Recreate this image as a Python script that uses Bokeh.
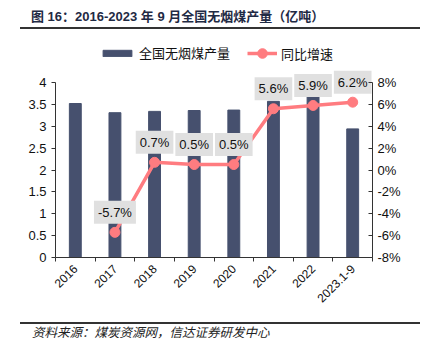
from bokeh.plotting import figure
from bokeh.models import (Range1d, LinearAxis, FixedTicker, Legend, LegendItem,
                          ColumnDataSource, Div)
from bokeh.layouts import column
from bokeh.embed import file_html
from bokeh.resources import INLINE
from bokeh.core.properties import value
import math

categories = ["2016", "2017", "2018", "2019", "2020", "2021", "2022", "2023.1-9"]
production = [3.52, 3.31, 3.34, 3.36, 3.37, 3.57, 3.70, 2.94]
growth = [None, -5.7, 0.7, 0.5, 0.5, 5.6, 5.9, 6.2]
left_ticks = [0, 0.5, 1, 1.5, 2, 2.5, 3, 3.5, 4]
right_ticks = [-8, -6, -4, -2, 0, 2, 4, 6, 8]

title_text = "图 16：2016-2023 年 9 月全国无烟煤产量（亿吨）"
source_text = "资料来源：煤炭资源网，信达证券研发中心"
bar_name = "全国无烟煤产量"
line_name = "同比增速"

CJK = "Noto Sans CJK SC"
LAT = "Liberation Sans"
BAR_C = "#46506E"
LINE_C = "#FF7C80"
W = 425

# Title strip (HTML)
top = Div(width=W, height=36, margin=0, text=(
    '<div style="position:relative;width:425px;height:36px;">'
    '<div style="position:absolute;left:31px;top:8px;line-height:17px;white-space:nowrap;'
    "font-family:'Liberation Sans','Noto Sans CJK SC';font-weight:bold;font-size:13px;"
    'color:#1F2A44;">' + title_text + '</div>'
    '<div style="position:absolute;left:20px;top:27px;width:400px;height:2px;background:#333333;"></div>'
    '</div>'))

# Main chart: frame spans page y 40..257; value axes limited with bounds
xs = [i + 0.5 for i in range(len(categories))]
p = figure(width=W, height=282, x_range=Range1d(0, len(categories)), y_range=Range1d(0, 4.96),
           output_backend="svg", toolbar_location=None,
           min_border_left=55, min_border_right=53, min_border_top=4, min_border_bottom=61)
p.outline_line_color = None
p.grid.visible = False
p.extra_y_ranges = {"pct": Range1d(-8, 11.84)}

bars = p.vbar(x=xs, top=production, width=0.3, color=BAR_C)

gx = [x for x, g in zip(xs, growth) if g is not None]
gy = [g for g in growth if g is not None]
glab = ["%.1f%%" % g for g in gy]
src = ColumnDataSource(dict(x=gx, y=gy, lab=glab))
ln = p.line("x", "y", source=src, y_range_name="pct", line_color=LINE_C, line_width=3.5)
pts = p.scatter("x", "y", source=src, y_range_name="pct", size=10, color=LINE_C)
p.text("x", "y", text="lab", source=src, y_range_name="pct", y_offset=-20,
       text_align="center", text_baseline="middle", text_font=value(LAT),
       text_font_size="13px", text_color="#111111",
       background_fill_color="#E0E0E0", padding=4)

# axes
xa = p.xaxis[0]
xa.ticker = FixedTicker(ticks=xs, minor_ticks=list(range(len(categories) + 1)))
xa.major_label_overrides = {x: c for x, c in zip(xs, categories)}
xa.major_label_orientation = math.pi / 4
xa.major_tick_in = 0
xa.major_tick_out = 0
xa.minor_tick_in = 0
xa.minor_tick_out = 4
xa.minor_tick_line_color = "#333333"
xa.axis_line_color = "#333333"
xa.major_label_text_font = LAT
xa.major_label_text_font_size = "12px"
xa.major_label_text_color = "#111111"

ya = p.yaxis[0]
ya.ticker = FixedTicker(ticks=left_ticks)
ya.bounds = (0, 4)
ya.major_label_overrides = {t: ("%g" % t) for t in left_ticks}
ya.major_tick_in = 0
ya.major_tick_out = 4
ya.minor_tick_line_color = None
ya.axis_line_color = "#333333"
ya.major_tick_line_color = "#333333"
ya.major_label_text_font = LAT
ya.major_label_text_font_size = "13px"
ya.major_label_text_color = "#111111"

ra = LinearAxis(y_range_name="pct", ticker=FixedTicker(ticks=right_ticks), bounds=(-8, 8))
ra.major_label_overrides = {t: ("%d%%" % t) for t in right_ticks}
ra.major_tick_in = 4
ra.major_tick_out = 0
ra.minor_tick_line_color = None
ra.axis_line_color = "#333333"
ra.major_tick_line_color = "#333333"
ra.major_label_text_font = LAT
ra.major_label_text_font_size = "13px"
ra.major_label_text_color = "#111111"
p.add_layout(ra, "right")

leg_common = dict(label_text_font=CJK, label_text_font_size="13px", label_text_color="#111111",
                  label_standoff=4, padding=0, margin=0, border_line_color=None,
                  background_fill_alpha=0)
leg1 = Legend(items=[LegendItem(label=bar_name, renderers=[bars])], location=(44, 195),
              glyph_width=36, glyph_height=8, label_height=8, **leg_common)
leg2 = Legend(items=[LegendItem(label=line_name, renderers=[ln, pts])], location=(192, 192),
              glyph_width=30, glyph_height=24, **leg_common)
p.add_layout(leg1)
p.add_layout(leg2)

# Source strip (HTML)
bot = Div(width=W, height=36, margin=0, text=(
    '<div style="position:relative;width:425px;height:36px;">'
    '<div style="position:absolute;left:20px;top:4px;width:400px;height:2px;background:#333333;"></div>'
    '<div style="position:absolute;left:32px;top:6px;line-height:16px;white-space:nowrap;'
    "font-family:'Noto Sans CJK SC';font-style:italic;font-size:12.5px;color:#222222;\">"
    + source_text + '</div>'
    '</div>'))

layout = column(top, p, bot, spacing=0)
open("out.html", "w").write(file_html(layout, INLINE))
